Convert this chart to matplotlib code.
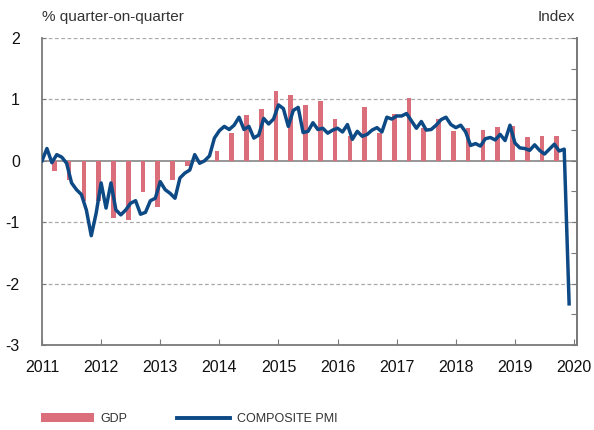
import matplotlib
matplotlib.use('Agg')
import matplotlib.pyplot as plt
import numpy as np
from matplotlib.patches import Patch
from matplotlib.lines import Line2D

# GDP, % quarter-on-quarter, 2011Q1 - 2019Q3
gdp = [-0.16, -0.32, -0.65, -0.65,
       -0.93, -0.96, -0.51, -0.76,
       -0.32, -0.09, 0.02, 0.16,
       0.46, 0.74, 0.85, 1.14,
       1.07, 0.91, 0.97, 0.68,
       0.41, 0.88, 0.46, 0.76,
       1.03, 0.53, 0.68, 0.49,
       0.54, 0.50, 0.55, 0.56,
       0.38, 0.40, 0.41]

# Composite PMI (monthly, rescaled), Jan 2011 - Dec 2019
pmi = [0.00, 0.20, -0.03, 0.10, 0.06, -0.04, -0.36, -0.47, -0.55, -0.80, -1.22, -0.85,
       -0.36, -0.77, -0.36, -0.80, -0.88, -0.80, -0.69, -0.65, -0.87, -0.84, -0.65, -0.61,
       -0.34, -0.47, -0.53, -0.61, -0.28, -0.20, -0.15, 0.10, -0.04, 0.00, 0.08, 0.37,
       0.49, 0.56, 0.51, 0.58, 0.71, 0.51, 0.56, 0.37, 0.42, 0.69, 0.60, 0.68,
       0.91, 0.85, 0.56, 0.82, 0.87, 0.46, 0.48, 0.62, 0.51, 0.53, 0.45, 0.50,
       0.53, 0.47, 0.59, 0.35, 0.48, 0.40, 0.43, 0.50, 0.54, 0.47, 0.71, 0.68,
       0.73, 0.73, 0.77, 0.65, 0.53, 0.64, 0.50, 0.51, 0.58, 0.67, 0.71, 0.59,
       0.54, 0.58, 0.47, 0.25, 0.28, 0.24, 0.36, 0.38, 0.34, 0.43, 0.33, 0.58,
       0.29, 0.21, 0.20, 0.17, 0.26, 0.17, 0.11, 0.19, 0.27, 0.16, 0.19, -2.33]

years = list(range(2011, 2021))
yticks = [-3, -2, -1, 0, 1, 2]

start = 2011
gdp_x = start + (3 * np.arange(len(gdp)) + 2.5) / 12
pmi_x = start + np.arange(len(pmi)) / 12

red = '#DA6F7B'
blue = '#0D4A85'
grey = '#7A7A7A'
text_c = '#333333'

plt.rcParams['axes.unicode_minus'] = False
plt.rcParams['font.family'] = ['Liberation Sans', 'DejaVu Sans']

fig = plt.figure(figsize=(5.94, 4.30), dpi=100)
ax = fig.add_axes([42 / 594, 85 / 430, 535 / 594, 307 / 430])

ax.bar(gdp_x, gdp, width=0.08, color=red, zorder=2)
ax.plot(pmi_x, pmi, color=blue, linewidth=2.5, zorder=3)

ax.set_xlim(2011, 2020.05)
ax.set_ylim(-3, 2)
ax.set_xticks(years)
ax.set_xticklabels([str(y) for y in years])
ax.set_yticks(yticks)
ax.set_yticklabels([str(v) for v in yticks])

for v in [2, 1, -1, -2]:
    ax.axhline(v, color='#AAAAAA', linestyle=(0, (3, 2)), linewidth=0.9, zorder=1)
ax.axhline(0, color=grey, linewidth=1.1, zorder=1)

ax.spines['top'].set_visible(False)
for s in ['left', 'right', 'bottom']:
    ax.spines[s].set_color(grey)
    ax.spines[s].set_linewidth(1.3)

ax.tick_params(axis='x', direction='in', length=4, color=grey, labelsize=11.5,
               labelcolor='#111111', pad=11)
ax.tick_params(axis='y', direction='in', length=3, color=grey, labelsize=11.5,
               labelcolor='#111111', pad=16)

ax2 = ax.twinx()
ax2.set_ylim(-3, 2)
ax2.set_yticks(np.arange(-3, 2.01, 0.5))
ax2.tick_params(axis='y', direction='in', length=4, color=grey, labelright=False)
for s in ['top', 'left', 'bottom']:
    ax2.spines[s].set_visible(False)
ax2.spines['right'].set_color(grey)
ax2.spines['right'].set_linewidth(1.3)

fig.text(42 / 594, 1 - 17 / 430, '% quarter-on-quarter', fontsize=11, color=text_c,
         ha='left', va='center')
fig.text(575 / 594, 1 - 17 / 430, 'Index', fontsize=11, color=text_c,
         ha='right', va='center')

handles = [Patch(facecolor=red, edgecolor='none'),
           Line2D([0], [0], color=blue, linewidth=2.8)]
fig.legend(handles, ['GDP', 'COMPOSITE PMI'], loc='center left',
           bbox_to_anchor=(41 / 594, 11 / 430), ncol=2, frameon=False,
           borderpad=0, borderaxespad=0, handlelength=4.2, handleheight=0.7,
           handletextpad=0.55, columnspacing=4.0,
           prop={'size': 9}, labelcolor=text_c)

fig.savefig('out.png', dpi=100)
